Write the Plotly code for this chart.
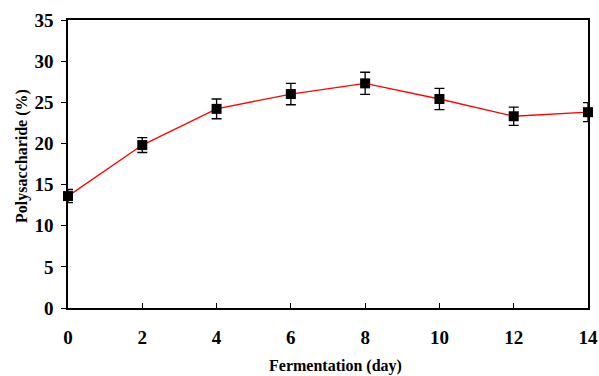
import plotly.graph_objects as go

days = [0, 2, 4, 6, 8, 10, 12, 14]
polysaccharide = [13.6, 19.8, 24.2, 26.0, 27.3, 25.4, 23.3, 23.8]
errors = [0.8, 0.9, 1.2, 1.3, 1.35, 1.3, 1.1, 1.15]
x_ticks = [0, 2, 4, 6, 8, 10, 12, 14]
y_ticks = [0, 5, 10, 15, 20, 25, 30, 35]
x_title = "Fermentation (day)"
y_title = "Polysaccharide (%)"

font_family = "Liberation Serif, Times New Roman, serif"

fig = go.Figure()
fig.add_trace(go.Scatter(
    x=days, y=polysaccharide,
    mode="lines+markers",
    line=dict(color="#ff0000", width=1.3),
    marker=dict(symbol="square", size=10, color="black"),
    error_y=dict(type="data", array=errors, visible=True, color="black", thickness=1.3, width=5),
    cliponaxis=False,
    showlegend=False,
))

fig.update_layout(
    width=599, height=376,
    margin=dict(l=68, r=11, t=20, b=68),
    plot_bgcolor="white", paper_bgcolor="white",
    font=dict(family=font_family, color="black"),
    annotations=[
        dict(text="<b>%s</b>" % x_title, xref="paper", yref="paper", x=0.5135, y=-0.2014,
             xanchor="center", yanchor="middle", showarrow=False,
             font=dict(family=font_family, size=16, color="black")),
        dict(text="<b>%s</b>" % y_title, xref="paper", yref="paper", x=-0.0885, y=0.528,
             xanchor="center", yanchor="middle", showarrow=False, textangle=-90,
             font=dict(family=font_family, size=16, color="black")),
    ],
)
fig.update_xaxes(
    range=[0, 14], tickvals=x_ticks, ticktext=["<b>%d</b>" % v for v in x_ticks],
    ticks="inside", ticklen=5, tickwidth=1, tickcolor="black",
    showline=True, linecolor="black", linewidth=1.5, mirror=True,
    showgrid=False, zeroline=False, automargin=False,
    tickfont=dict(family=font_family, size=19, color="black"),
    ticklabelstandoff=11,
)
fig.update_yaxes(
    range=[0, 35], tickvals=y_ticks, ticktext=["<b>%d</b>" % v for v in y_ticks],
    ticks="outside", ticklen=5, tickwidth=1, tickcolor="black",
    showline=True, linecolor="black", linewidth=1.5, mirror=True,
    showgrid=False, zeroline=False, automargin=False,
    tickfont=dict(family=font_family, size=19, color="black"),
    ticklabelstandoff=4,
)

fig.write_html(
    "out.html",
    config={"displayModeBar": False},
    post_script="document.body.style.margin='0';document.body.style.overflow='hidden';",
)
